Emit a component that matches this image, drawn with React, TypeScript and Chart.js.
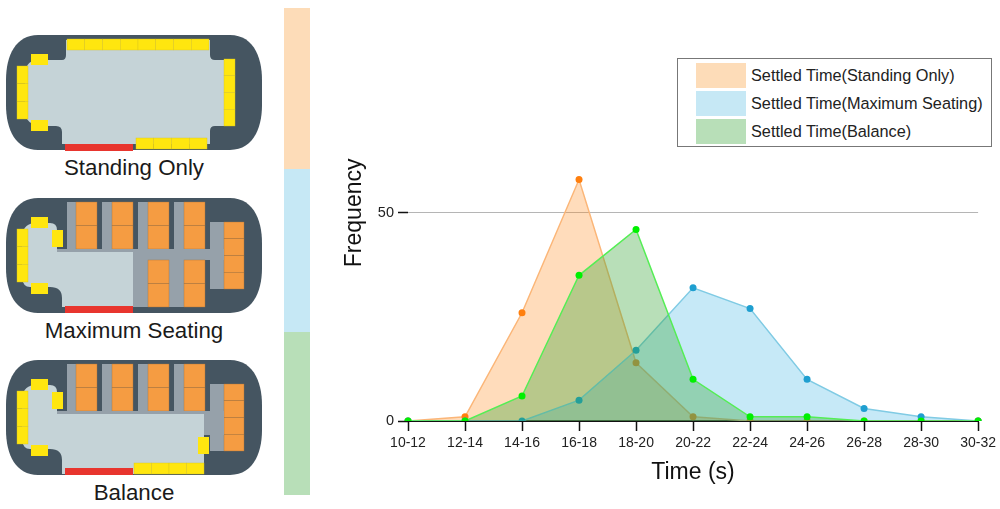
import { useEffect, useRef } from "react";
import { Chart, registerables } from "chart.js";

Chart.register(...registerables);

const timeBins = ["10-12", "12-14", "14-16", "16-18", "18-20", "20-22", "22-24", "24-26", "26-28", "28-30", "30-32"];
const standingOnly = [0, 1, 26, 58, 14, 1, 0, 0, 0, 0, 0];
const maximumSeating = [0, 0, 0, 5, 17, 32, 27, 10, 3, 1, 0];
const balance = [0, 0, 6, 35, 46, 10, 1, 1, 0, 0, 0];
const yTicks = [0, 50];

const FONT = "'Liberation Sans', Arial, sans-serif";
const ORANGE_FILL = "rgba(255,140,30,0.3)";
const BLUE_FILL = "rgba(50,175,225,0.28)";
const GREEN_FILL = "rgba(46,160,46,0.34)";
const LEGEND_SWATCHES = ["#fddcb8", "#c6e8f5", "#b8dfb8"];
const LEGEND_LABELS = [
  "Settled Time(Standing Only)",
  "Settled Time(Maximum Seating)",
  "Settled Time(Balance)",
];

const BODY = "#455561";
const FLOOR = "#c5d3d7";
const AISLE = "#96a1aa";
const YELLOW = "#ffe60f";
const SEAT = "#f59c42";
const DOOR = "#e8352e";

function Seats({ x, y, w, h, n, vertical, color = YELLOW }: { x: number; y: number; w: number; h: number; n: number; vertical?: boolean; color?: string }) {
  const items = [];
  for (let i = 0; i < n; i++) {
    items.push(
      <rect
        key={i}
        x={vertical ? x : x + (w / n) * i}
        y={vertical ? y + (h / n) * i : y}
        width={vertical ? w : w / n}
        height={vertical ? h / n : h}
        fill={color}
        stroke={color === YELLOW ? "#d8c21e" : "#a8743c"}
        strokeWidth={0.4}
      />
    );
  }
  return <>{items}</>;
}

function Shell() {
  return <path d="M38,35 L230,35 C252,35 262,55 262,80 L262,105 C262,130 252,150 230,150 L38,150 C16,150 6,130 6,105 L6,80 C6,55 16,35 38,35 Z" fill={BODY} />;
}

function FrontSeats({ extra }: { extra?: boolean }) {
  return (
    <>
      <Seats x={17} y={66} w={11} h={53} n={3} vertical />
      <rect x={31} y={54} width={17} height={11} fill={YELLOW} />
      <rect x={31} y={120} width={17} height={11} fill={YELLOW} />
      {extra && <rect x={52} y={67} width={11} height={17} fill={YELLOW} />}
    </>
  );
}

function RearSeats() {
  return (
    <>
      <rect x={67} y={39} width={9} height={47} fill={AISLE} />
      <rect x={102} y={39} width={10} height={47} fill={AISLE} />
      <rect x={138} y={39} width={10} height={47} fill={AISLE} />
      <rect x={174} y={39} width={10} height={47} fill={AISLE} />
      <rect x={210} y={59} width={14} height={67} fill={AISLE} />
      {[76, 112, 148, 184].map((x) => (
        <Seats key={x} x={x} y={39} w={21} h={47} n={2} vertical color={SEAT} />
      ))}
      <Seats x={224} y={59} w={20} h={67} n={4} vertical color={SEAT} />
    </>
  );
}

function StandingPlan() {
  return (
    <g>
      <Shell />
      <path d="M25,72 Q27,60 38,60 L62,60 Q66,60 66,55 L66,40 L210,40 L210,55 Q210,60 215,60 L235,60 L235,126 L215,126 Q210,126 210,131 L210,144 L62,144 L62,132 Q62,126 56,126 L38,126 Q28,124 25,115 Z" fill={FLOOR} />
      <Seats x={67} y={39} w={142} h={11} n={8} />
      <Seats x={224} y={59} w={11} h={67} n={4} vertical />
      <FrontSeats />
      <Seats x={136} y={138} w={71} h={11} n={4} />
      <rect x={65} y={144} width={68} height={7} fill={DOOR} />
    </g>
  );
}

function MaximumPlan() {
  return (
    <g transform="translate(0,163)">
      <Shell />
      <RearSeats />
      <rect x={57} y={86} width={167} height={11} fill={AISLE} />
      <rect x={133} y={86} width={15} height={58} fill={AISLE} />
      <rect x={169} y={97} width={15} height={47} fill={AISLE} />
      <Seats x={148} y={97} w={21} h={47} n={2} vertical color={SEAT} />
      <Seats x={184} y={97} w={21} h={47} n={2} vertical color={SEAT} />
      <path d="M22,72 Q24,60 36,60 L50,60 Q57,60 57,67 L57,89 L133,89 L133,144 L62,144 L62,135 Q62,124 50,124 L30,124 Q23,124 22,115 Z" fill={FLOOR} />
      <FrontSeats extra />
      <rect x={65} y={143} width={68} height={7} fill={DOOR} />
    </g>
  );
}

function BalancePlan() {
  return (
    <g transform="translate(0,325)">
      <Shell />
      <RearSeats />
      <rect x={57} y={86} width={167} height={3} fill={AISLE} />
      <rect x={204} y={86} width={20} height={24} fill={AISLE} />
      <path d="M22,72 Q24,60 36,60 L50,60 Q57,60 57,67 L57,89 L204,89 L204,149 L62,149 L62,135 Q62,124 50,124 L30,124 Q23,124 22,115 Z" fill={FLOOR} />
      <FrontSeats extra />
      <rect x={198} y={112} width={11} height={17} fill={YELLOW} />
      <Seats x={134} y={138} w={70} h={11} n={4} />
      <rect x={65} y={143} width={68} height={7} fill={DOOR} />
    </g>
  );
}

function Legend() {
  return (
    <div
      style={{
        position: "absolute",
        left: 677,
        top: 58,
        width: 313,
        height: 87,
        border: "1px solid #777",
        background: "#fff",
        fontFamily: FONT,
        fontSize: 16.3,
        color: "#222",
      }}
    >
      {LEGEND_LABELS.map((label, i) => (
        <div key={label} style={{ position: "absolute", left: 18, top: 4 + i * 28, height: 25, display: "flex", alignItems: "center", whiteSpace: "nowrap" }}>
          <span style={{ display: "block", width: 50, height: 25, background: LEGEND_SWATCHES[i], marginRight: 5 }} />
          {label}
        </div>
      ))}
    </div>
  );
}

export default function App() {
  const ref = useRef<HTMLCanvasElement>(null);

  useEffect(() => {
    const canvas = ref.current;
    if (!canvas) return;
    const chart = new Chart(canvas, {
      type: "line",
      data: {
        labels: timeBins,
        datasets: [
          {
            label: LEGEND_LABELS[0],
            data: standingOnly,
            order: 3,
            fill: "origin",
            backgroundColor: ORANGE_FILL,
            borderColor: "#fbb678",
            borderWidth: 1.5,
            pointRadius: 3.5,
            pointBackgroundColor: "#ff7f0e",
            pointBorderWidth: 0,
            tension: 0,
          },
          {
            label: LEGEND_LABELS[1],
            data: maximumSeating,
            order: 2,
            fill: "origin",
            backgroundColor: BLUE_FILL,
            borderColor: "#80cbe4",
            borderWidth: 1.5,
            pointRadius: 3.5,
            pointBackgroundColor: "#1f9fd0",
            pointBorderWidth: 0,
            tension: 0,
          },
          {
            label: LEGEND_LABELS[2],
            data: balance,
            order: 1,
            fill: "origin",
            backgroundColor: GREEN_FILL,
            borderColor: "#55ee55",
            borderWidth: 1.5,
            pointRadius: 3.5,
            pointBackgroundColor: "#00f000",
            pointBorderWidth: 0,
            tension: 0,
          },
        ],
      },
      options: {
        animation: false,
        responsive: true,
        maintainAspectRatio: false,
        layout: { padding: { top: 3, right: 21, bottom: 0, left: 0 } },
        plugins: { legend: { display: false }, tooltip: { enabled: false } },
        scales: {
          x: {
            offset: false,
            afterFit: (scale) => {
              scale.height = 88;
            },
            border: { color: "#111", width: 2 },
            grid: { drawOnChartArea: false, drawTicks: true, tickLength: 10, tickColor: "#111", tickWidth: 1.5 },
            ticks: { color: "#222", font: { family: FONT, size: 14 }, maxRotation: 0, autoSkip: false, padding: 4 },
            title: { display: true, text: "Time (s)", color: "#111", font: { family: FONT, size: 23 }, padding: { top: 0, bottom: 23 } },
          },
          y: {
            min: 0,
            max: 100,
            afterFit: (scale) => {
              scale.width = 78;
            },
            afterBuildTicks: (scale) => {
              scale.ticks = yTicks.map((value) => ({ value }));
            },
            border: { display: false },
            grid: {
              color: (c) => (c.tick && c.tick.value === 0 ? "#111" : "#b5b5b5"),
              tickColor: "#111",
              tickLength: 10,
              tickWidth: 1.5,
            },
            ticks: { color: "#222", font: { family: FONT, size: 14.5 }, padding: 4 },
            title: { display: true, text: "Frequency", color: "#111", font: { family: FONT, size: 23 }, padding: { top: 11, bottom: 0 } },
          },
        },
      },
    });
    return () => chart.destroy();
  }, []);

  return (
    <div style={{ position: "absolute", left: 0, top: 0, width: 1000, height: 509, overflow: "hidden", background: "#fff" }}>
      <svg width={330} height={509} style={{ position: "absolute", left: 0, top: 0 }}>
        <StandingPlan />
        <MaximumPlan />
        <BalancePlan />
        <g fontFamily={FONT} fontSize={22.3} fill="#1a1a1a" textAnchor="middle">
          <text x={134} y={175}>Standing Only</text>
          <text x={134} y={338}>Maximum Seating</text>
          <text x={134} y={500}>Balance</text>
        </g>
        <rect x={284} y={8} width={26} height={161} fill={LEGEND_SWATCHES[0]} />
        <rect x={284} y={169} width={26} height={163} fill={LEGEND_SWATCHES[1]} />
        <rect x={284} y={332} width={26} height={163} fill={LEGEND_SWATCHES[2]} />
      </svg>
      <div style={{ position: "absolute", left: 330, top: -8, width: 670, height: 517 }}>
        <canvas ref={ref} />
      </div>
      <Legend />
    </div>
  );
}
